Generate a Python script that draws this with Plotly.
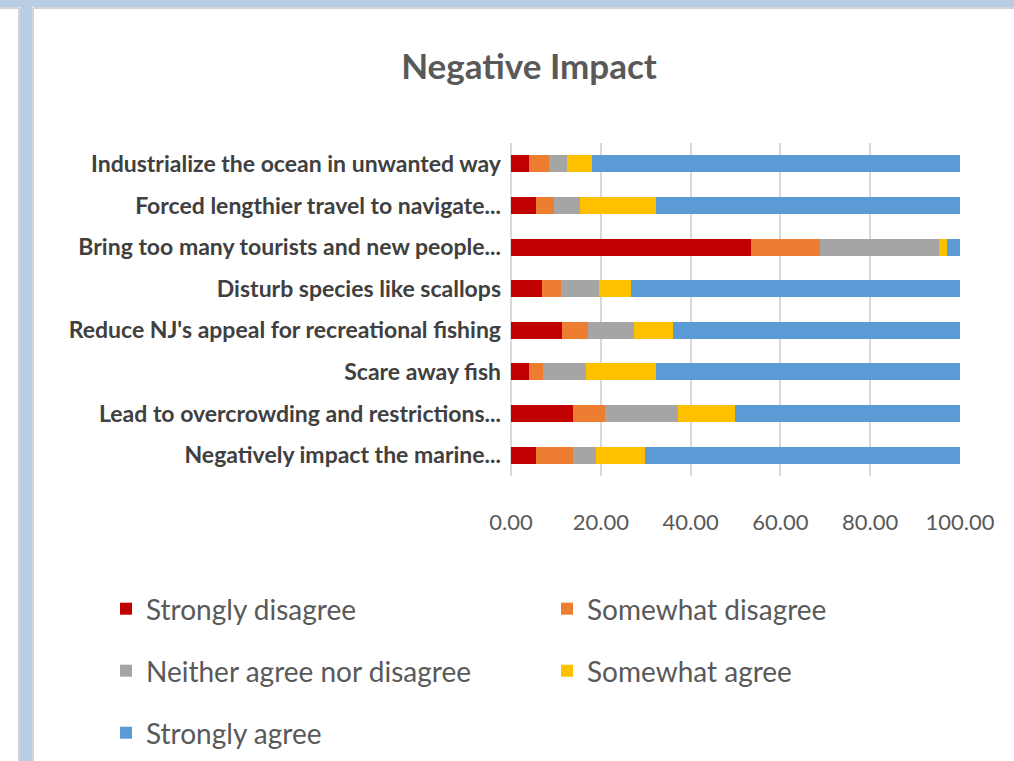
import plotly.graph_objects as go

categories = [
    "Industrialize the ocean in unwanted way",
    "Forced lengthier travel to navigate...",
    "Bring too many tourists and new people...",
    "Disturb species like scallops",
    "Reduce NJ's appeal for recreational fishing",
    "Scare away fish",
    "Lead to overcrowding and restrictions...",
    "Negatively impact the marine...",
]
strongly_disagree = [4.0, 5.5, 53.5, 7.0, 11.4, 4.1, 13.7, 5.5]
somewhat_disagree = [4.4, 4.1, 15.3, 4.1, 5.8, 3.0, 7.2, 8.2]
neither = [4.1, 5.8, 26.6, 8.5, 10.3, 9.5, 16.4, 5.3]
somewhat_agree = [5.6, 16.9, 1.6, 7.1, 8.6, 15.7, 12.6, 10.8]
strongly_agree = [81.9, 67.7, 3.0, 73.3, 63.9, 67.7, 50.1, 70.2]

series_names = ["Strongly disagree", "Somewhat disagree", "Neither agree nor disagree",
                "Somewhat agree", "Strongly agree"]
series_values = [strongly_disagree, somewhat_disagree, neither, somewhat_agree, strongly_agree]
colors = ["#C00000", "#ED7D31", "#A5A5A5", "#FFC000", "#5B9BD5"]
legend_ids = ["legend", "legend", "legend2", "legend2", "legend3"]
x_ticks = [0, 20, 40, 60, 80, 100]

W, H = 1014, 761
L, R, T, B = 511, 960, 143, 476


def px2x(px):
    return (px - L) / (R - L)


def py2y(py):
    return (B - py) / (B - T)


fig = go.Figure()
for name, vals, col, lg in zip(series_names, series_values, colors, legend_ids):
    fig.add_trace(go.Bar(
        y=categories, x=vals, name=name, orientation="h",
        marker=dict(color=col, line=dict(width=0)), legend=lg,
    ))

frame_blue = "#B9CDE5"
shapes = [
    dict(type="rect", xref="paper", yref="paper", x0=px2x(0), x1=px2x(W), y0=py2y(0), y1=py2y(7),
         fillcolor=frame_blue, line=dict(width=0), layer="below"),
    dict(type="rect", xref="paper", yref="paper", x0=px2x(20), x1=px2x(32), y0=py2y(0), y1=py2y(H),
         fillcolor=frame_blue, line=dict(width=0), layer="below"),
    dict(type="line", xref="paper", yref="paper", x0=px2x(33), x1=px2x(33), y0=py2y(8), y1=py2y(H),
         line=dict(color="#D4D4D4", width=2), layer="below"),
    dict(type="line", xref="paper", yref="paper", x0=px2x(33), x1=px2x(W), y0=py2y(8), y1=py2y(8),
         line=dict(color="#D4D4D4", width=2), layer="below"),
    dict(type="line", xref="paper", yref="paper", x0=px2x(19), x1=px2x(19), y0=py2y(8), y1=py2y(H),
         line=dict(color="#D4D4D4", width=2), layer="below"),
    dict(type="line", xref="paper", yref="paper", x0=px2x(0), x1=px2x(19), y0=py2y(8), y1=py2y(8),
         line=dict(color="#D4D4D4", width=2), layer="below"),
]

legend_font = dict(family="Lato, Open Sans, sans-serif", size=28, color="#595959")
leg_x = px2x(106)


def legend_at(py):
    return dict(orientation="h", x=leg_x, xanchor="left", y=py2y(py), yanchor="middle",
                font=legend_font, entrywidth=396, entrywidthmode="pixels",
                bgcolor="rgba(0,0,0,0)", traceorder="normal")


fig.update_layout(
    width=W, height=H,
    margin=dict(l=L, r=W - R, t=T, b=H - B, autoexpand=False),
    paper_bgcolor="white", plot_bgcolor="white",
    barmode="stack", bargap=0.59,
    title=dict(text="Negative Impact", x=px2x(529), xanchor="center", xref="paper",
               y=1 - 67 / H, yanchor="middle",
               font=dict(family="Lato, Open Sans, sans-serif", size=35, color="#595959", weight="bold")),
    showlegend=True,
    legend=legend_at(609),
    legend2=legend_at(671),
    legend3=legend_at(733),
    shapes=shapes,
    xaxis=dict(range=[0, 100], tickvals=x_ticks, tickformat=".2f", showgrid=True,
               gridcolor="#D9D9D9", gridwidth=2, zeroline=True, zerolinecolor="#D9D9D9",
               zerolinewidth=2, showline=False, ticks="", ticklabelstandoff=31,
               tickfont=dict(family="Lato, Open Sans, sans-serif", size=22, color="#595959"),
               fixedrange=True),
    yaxis=dict(autorange="reversed", showgrid=False, zeroline=False, showline=False, ticks="",
               ticklabelstandoff=9,
               tickfont=dict(family="Lato, Open Sans, sans-serif", size=23, color="#404040",
                             weight="bold")),
)

fig.write_html("out.html", config={"displayModeBar": False},
               post_script="document.body.style.margin='0px';")
